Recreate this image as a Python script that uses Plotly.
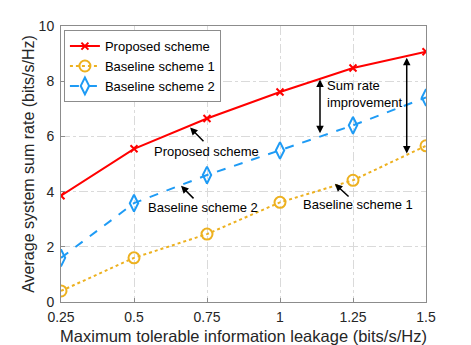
import plotly.graph_objects as go

leakage = [0.25, 0.5, 0.75, 1.0, 1.25, 1.5]
proposed = [3.85, 5.55, 6.65, 7.61, 8.48, 9.07]
baseline1 = [0.40, 1.60, 2.46, 3.61, 4.41, 5.66]
baseline2 = [1.60, 3.58, 4.60, 5.49, 6.40, 7.41]

x_ticks = [0.25, 0.5, 0.75, 1, 1.25, 1.5]
x_tick_text = ["0.25", "0.5", "0.75", "1", "1.25", "1.5"]
y_ticks = [0, 2, 4, 6, 8, 10]

FONT = "Liberation Sans, Arial, sans-serif"

fig = go.Figure()
fig.add_trace(go.Scatter(
    x=leakage, y=proposed, name="Proposed scheme", mode="lines+markers",
    line=dict(color="#FF0000", width=2),
    marker=dict(symbol="x-thin", size=7, line=dict(color="#FF0000", width=2)),
))
fig.add_trace(go.Scatter(
    x=leakage, y=baseline1, name="Baseline scheme 1", mode="lines+markers",
    line=dict(color="#EDB120", width=2, dash="dot"),
    marker=dict(symbol="circle-open", size=11, color="#EDB120", line=dict(width=2)),
))
fig.add_trace(go.Scatter(
    x=leakage, y=baseline2, name="Baseline scheme 2", mode="lines+markers",
    line=dict(color="#1E9BF5", width=2, dash="dash"),
    marker=dict(symbol="diamond-tall-open", size=12, color="#1E9BF5", line=dict(width=2)),
))

# labelled arrows pointing at the curves: text, text x/y, head x/y, tail x/y
labels = [
    ("Proposed scheme", 0.562, 5.44, 0.692, 6.32, 0.743, 5.77),
    ("Baseline scheme 2", 0.541, 3.42, 0.661, 4.21, 0.709, 3.70),
    ("Baseline scheme 1", 1.072, 3.52, 1.188, 4.28, 1.240, 3.77),
]
for text, lx, ly, hx, hy, tx, ty in labels:
    fig.add_annotation(
        x=hx, y=hy, ax=tx, ay=ty, axref="x", ayref="y", xref="x", yref="y",
        showarrow=True, arrowhead=2, arrowsize=1, arrowwidth=1.5,
        arrowcolor="black", text="",
    )
    fig.add_annotation(
        x=lx, y=ly, xref="x", yref="y", text=text,
        showarrow=False, xanchor="left", yanchor="middle",
        font=dict(family=FONT, size=13, color="black"),
    )

# double-headed "sum rate improvement" arrows
gaps = [(1.137, 8.06, 6.06), (1.434, 8.85, 5.33)]
for gx, top, bottom in gaps:
    fig.add_annotation(
        x=gx, y=top, ax=gx, ay=bottom, axref="x", ayref="y", xref="x", yref="y",
        showarrow=True, arrowhead=2, startarrowhead=2, arrowside="end+start",
        arrowsize=1, arrowwidth=1.5, arrowcolor="black", text="",
    )
fig.add_annotation(
    x=1.155, y=7.55, xref="x", yref="y", text="Sum rate<br>improvement",
    showarrow=False, xanchor="left", yanchor="middle", align="left",
    font=dict(family=FONT, size=13, color="black"),
)

axis_common = dict(
    showgrid=True, gridcolor="#DADADA", griddash="dashdot", gridwidth=1,
    showline=True, linecolor="#8C8C8C", linewidth=1, mirror=True,
    ticks="inside", ticklen=4, tickcolor="#8C8C8C",
    tickfont=dict(family=FONT, size=14, color="#262626"),
    zeroline=False, automargin=False,
)
fig.update_xaxes(
    range=[0.25, 1.5], tickvals=x_ticks, ticktext=x_tick_text,
    ticklabelstandoff=2,
    title=dict(text="Maximum tolerable information leakage (bits/s/Hz)",
               font=dict(family=FONT, size=16.5, color="#262626"), standoff=6),
    **axis_common,
)
fig.update_yaxes(
    range=[0, 10], tickvals=y_ticks,
    ticklabelstandoff=3,
    title=dict(text="Average system sum rate (bits/s/Hz)",
               font=dict(family=FONT, size=16, color="#262626"), standoff=0),
    **axis_common,
)

fig.update_layout(
    width=471, height=345,
    margin=dict(l=61, r=45, t=26, b=43),
    plot_bgcolor="white", paper_bgcolor="white",
    font=dict(family=FONT, color="#262626"),
    showlegend=True,
    legend=dict(
        x=0.008, y=0.985, xanchor="left", yanchor="top",
        bgcolor="white", bordercolor="#8C8C8C", borderwidth=1,
        font=dict(family=FONT, size=13, color="black"),
        itemwidth=30, tracegroupgap=2,
    ),
)

# drop the browser's default body margin so the figure sits at the window origin
fig.write_html(
    "out.html",
    config={"displayModeBar": False},
    post_script="document.body.style.margin='0';",
)
